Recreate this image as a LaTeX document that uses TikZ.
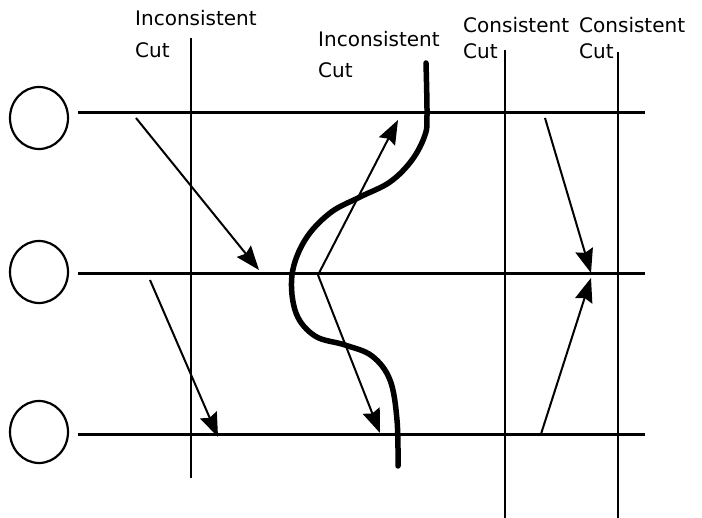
\documentclass[tikz,border=0pt]{standalone}
\usepackage{fontspec}
\setmainfont{DejaVu Sans}
\usetikzlibrary{arrows.meta,shapes.geometric}
\tikzset{
  proc/.style={
    shape = ellipse,
    draw,
    line width = 2.2pt,
    minimum width = 58pt,
    minimum height = 62pt,
    inner sep = 0pt
  },
  timeline/.style={
    line width = 3pt
  },
  cutline/.style={
    line width = 2.8pt
  },
  wavycut/.style={
    line width = 5.5pt,
    line cap = round
  },
  msg/.style={
    line width = 2pt,
    -{Stealth[length=24pt,width=18pt,inset=3pt]}
  },
  lbl/.style={
    anchor = north west,
    inner sep = 0pt,
    align = left,
    font = \fontsize{20}{24}\selectfont
  }
}

\begin{document}
\begin{tikzpicture}[x=1pt,y=-1pt]
    \useasboundingbox (0,0) rectangle (702,518);
    % processes and their time lines
    \foreach \i/\y/\c in {1/113/118, 2/274/272, 3/435/432} {
        \node[proc] (p\i) at (39,\c) {};
        \coordinate (s\i) at (78,\y);
        \coordinate (e\i) at (645,\y);
        \draw[timeline] (s\i) -- (e\i);
    }
    % straight cuts
    \coordinate (cAt) at (191,38);
    \coordinate (cAb) at (191,478);
    \coordinate (cCt) at (505,50);
    \coordinate (cCb) at (505,518);
    \coordinate (cDt) at (618,52);
    \coordinate (cDb) at (618,518);
    \draw[cutline] (cAt) -- (cAb);
    \draw[cutline] (cCt) -- (cCb);
    \draw[cutline] (cDt) -- (cDb);
    % the wavy cut
    \draw[wavycut] plot[smooth, tension=0.6] coordinates {
        (426,63) (427,115) (425,135) (412,160) (390,182) (360,197)
        (330,213) (305,240) (292,275) (296,313) (315,336) (345,345)
        (372,356) (390,380) (397,420) (398,466)};
    % labels
    \node[lbl] (lA) at (135,10) {Inconsistent\\[8pt]Cut};
    \node[lbl] (lB) at (318,31) {Inconsistent\\[7pt]Cut};
    \node[lbl] (lC) at (463,17) {Consistent\\[2pt]Cut};
    \node[lbl] (lD) at (579,17) {Consistent\\[2pt]Cut};
    % messages
    \coordinate (m1a) at (136,118);
    \coordinate (m1b) at (259,270);
    \coordinate (m2a) at (150,280);
    \coordinate (m2b) at (218,437);
    \coordinate (m3a) at (318,275);
    \coordinate (m3b) at (398,120);
    \coordinate (m4b) at (380,433);
    \coordinate (m5a) at (545,118);
    \coordinate (m5b) at (591,273);
    \coordinate (m6a) at (541,434);
    \coordinate (m6b) at (591,278);
    \draw[msg] (m1a) -- (m1b);
    \draw[msg] (m2a) -- (m2b);
    \draw[msg] (m3a) -- (m3b);
    \draw[msg] (m3a) -- (m4b);
    \draw[msg] (m5a) -- (m5b);
    \draw[msg] (m6a) -- (m6b);
\end{tikzpicture}
\end{document}
